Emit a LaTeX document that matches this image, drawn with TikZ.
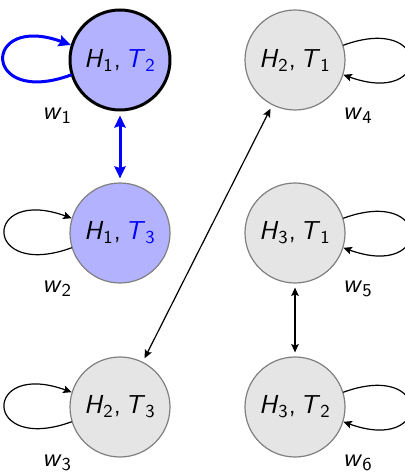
\documentclass[tikz,border=0pt]{standalone}
\usetikzlibrary{arrows.meta}
\newcommand{\wv}[2]{\textit{#1}\textsubscript{#2}}
\begin{document}
\begin{tikzpicture}[x=0.5pt,y=0.5pt,>={Stealth[length=3pt 2,width=2.6pt 2,inset=0.8pt]}, font=\fontsize{13}{15}\selectfont\sffamily, line join=round, line cap=round, line width=0.6pt,
	world/.style={circle, draw=gray, fill=gray!20, minimum size=50pt, inner sep=0pt},
	actual/.style={world, draw=black, line width=1.5pt, fill=blue!30},
	known/.style={world, fill=blue!30},
	rel/.style={<->, shorten <=2pt, shorten >=2pt},
	relact/.style={rel, blue, line width=1.5pt}]
	\useasboundingbox (0,0) rectangle (405,472);
	%Khai báo các đỉnh
	\node[actual] (w1) at (120,412) {\wv{H}{1},\,\textcolor{blue}{\wv{T}{2}}};
	\node[known] (w2) at (120,239) {\wv{H}{1},\,\textcolor{blue}{\wv{T}{3}}};
	\node[world] (w3) at (120,65) {\wv{H}{2},\,\wv{T}{3}};
	\node[world] (w4) at (295,412) {\wv{H}{2},\,\wv{T}{1}};
	\node[world] (w5) at (295,239) {\wv{H}{3},\,\wv{T}{1}};
	\node[world] (w6) at (295,65) {\wv{H}{3},\,\wv{T}{2}};
	%Vòng lặp
	\draw[->, blue, line width=1.5pt] (w1.197) .. controls +(200:95) and +(160:95) .. (w1.163);
	\foreach \x in {w2,w3}\draw[->] (\x.197) .. controls +(200:95) and +(160:95) .. (\x.163);
	\foreach \x in {w4,w5,w6}\draw[->] (\x.17) .. controls +(20:95) and +(-20:95) .. (\x.-17);
	%Cạnh
	\draw[relact] (w1)--(w2);
	\draw[rel] (w4)--(w3);
	\draw[rel] (w5)--(w6);
	\foreach \x/\g/\i in {w1/221.6/1,w2/221.6/2,w3/221.6/3,w4/-41.6/4,w5/-41.6/5,w6/-41.6/6}\path (\x) +(\g:84) node{\wv{w}{\i}};
\end{tikzpicture}
\end{document}
